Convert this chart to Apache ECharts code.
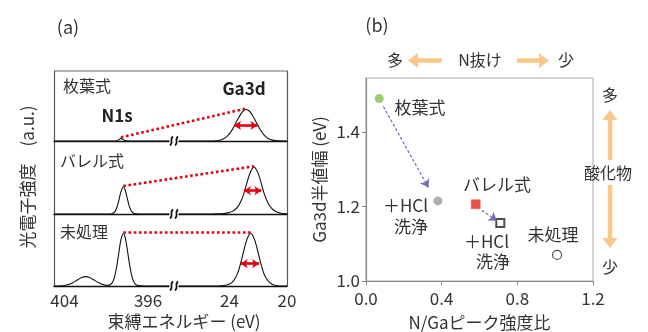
<!DOCTYPE html>
<html><head><meta charset="utf-8">
<script src="https://cdn.jsdelivr.net/npm/echarts@6/dist/echarts.min.js"></script>
<style>html,body{margin:0;padding:0;background:#fff}#c{width:648px;height:332px}</style>
</head><body><div id="c"></div>
<script>
// ---------- DATA: panel (a) XPS spectra (binding energy eV, intensity a.u. 0-100 per row) ----------
const rowNames = ['枚葉式', 'バレル式', '未処理'];
const n1sMaiyou = [[405,0],[399.4,0],[399.0,0.4],[398.8,1.8],[398.6,3.8],[398.4,2.2],[398.2,0.6],[397.9,0],[394,0]];
const ga3dMaiyou = [[27.5,0],[26,0],[25.2,0.1],[24.6,1.5],[24.4,3.1],[24.2,5.9],[24.0,10.2],[23.8,16.3],[23.6,23.7],[23.4,31.7],[23.2,38.8],[23.0,43.6],[22.83,45],[22.6,42.5],[22.4,36.8],[22.2,29.3],[22.0,21.4],[21.8,14.3],[21.6,8.8],[21.4,4.9],[21.2,2.5],[21.0,1.2],[20.6,0.2],[20,0]];
const n1sBarrel = [[405,0],[400,0],[399.6,0.1],[399.4,0.7],[399.2,2.8],[399.0,8.3],[398.8,18.5],[398.6,30.3],[398.37,37],[398.2,33.2],[398.0,22.1],[397.8,10.9],[397.6,4.0],[397.4,1.1],[397.2,0.2],[396.8,0],[394,0]];
const ga3dBarrel = [[27.5,0],[25.2,0],[24.8,0.2],[24.6,0.3],[24.4,0.6],[24.2,1.2],[24.0,2.2],[23.8,3.6],[23.6,6.2],[23.4,10.5],[23.2,17.5],[23.0,27.6],[22.8,41.5],[22.6,54.5],[22.4,62.7],[22.29,64],[22.2,63.1],[22.0,55.6],[21.8,42.9],[21.6,28.9],[21.4,18.5],[21.2,11],[21.0,6.5],[20.8,3.8],[20.6,2.0],[20.4,1.0],[20.2,0.5],[20.0,0.3]];
const n1sUntreated = [[405,0],[404.6,0],[404.4,0.2],[404.0,0.8],[403.6,2.1],[403.2,4.6],[402.8,8.1],[402.4,11.4],[401.97,13],[401.6,11.8],[401.2,8.6],[400.8,5.1],[400.4,2.4],[400.0,1.0],[399.8,0.9],[399.6,2],[399.4,5.2],[399.2,13.1],[399.0,27.1],[398.8,46],[398.6,64],[398.37,73],[398.2,67.9],[398.0,51.8],[397.8,32.4],[397.6,16.6],[397.4,6.9],[397.2,2.4],[397.0,0.9],[396.6,0.3],[396,0],[394,0]];
const ga3dUntreated = [[27.5,0],[25.2,0],[24.8,0.1],[24.6,0.4],[24.4,0.8],[24.2,1.5],[24.0,2.8],[23.8,5.5],[23.6,10.8],[23.4,19.2],[23.2,32.9],[23.0,49.1],[22.8,63.8],[22.6,72.2],[22.52,73],[22.4,71.2],[22.2,61.2],[22.0,45.8],[21.8,29.9],[21.6,17],[21.4,9.3],[21.2,4.6],[21.0,2.2],[20.8,1.0],[20.6,0.4],[20.4,0.1],[20,0]];
const n1sRows = [n1sMaiyou, n1sBarrel, n1sUntreated];
const ga3dRows = [ga3dMaiyou, ga3dBarrel, ga3dUntreated];
const n1sTops = [[398.6,3.8],[398.37,37],[398.37,73]];
const ga3dTops = [[22.83,45],[22.29,64],[22.52,73]];
const fwhmArrows = [[23.68,22.06,22.3],[22.99,21.78,32],[23.22,21.94,31]]; // [from eV, to eV, height]
const leftTickLabels = [404, 396];
const rightTickLabels = [24, 20];

// ---------- DATA: panel (b) ----------
const bNames = ['枚葉式', '枚葉式＋HCl洗浄', 'バレル式', 'バレル式＋HCl洗浄', '未処理'];
const bRatio = [0.07, 0.38, 0.58, 0.71, 1.01];
const bFwhm = [1.49, 1.215, 1.206, 1.156, 1.07];
const bArrowFrom = [[0.092, 1.4685], [0.612, 1.19]];
const bArrowTo = [[0.33, 1.2507], [0.692, 1.162]];
const bXTicks = [0, 0.4, 0.8, 1.2];

// ---------- BUILD ----------
const FONT = '"Noto Sans CJK JP", "Noto Sans", sans-serif';
const chart = echarts.init(document.getElementById('c'), null, {renderer: 'canvas', width: 648, height: 332});
const rowTops = [71, 141, 214], rowHeights = [70, 73, 72];
const grids = [], xAxes = [], yAxes = [], series = [];
const hidden = {show: false};
for (let r = 0; r < 3; r++) {
  grids.push({left: 54, top: rowTops[r], width: 115, height: rowHeights[r], outerBoundsMode: 'none'});
  grids.push({left: 179, top: rowTops[r], width: 108, height: rowHeights[r], outerBoundsMode: 'none'});
  const lab = (list) => ({
    show: r === 2, fontSize: 17, color: '#333', fontFamily: FONT, margin: 6,
    formatter: v => list.indexOf(Math.round(v * 10) / 10) >= 0 ? String(Math.round(v)) : ''
  });
  xAxes.push({type: 'value', gridIndex: 2*r, min: 394, max: 405, interval: 1, inverse: true,
    axisLine: {show: true, onZero: false, lineStyle: {color: '#111', width: 1.3}},
    axisTick: hidden, splitLine: hidden, axisLabel: lab(leftTickLabels)});
  xAxes.push({type: 'value', gridIndex: 2*r+1, min: 20, max: 27.5, interval: 1, inverse: true,
    axisLine: {show: true, onZero: false, lineStyle: {color: '#111', width: 1.3}},
    axisTick: hidden, splitLine: hidden, axisLabel: lab(rightTickLabels)});
  yAxes.push({type: 'value', gridIndex: 2*r, min: 0, max: 100, position: 'left',
    axisLine: {show: true, onZero: false, lineStyle: {color: '#555', width: 1.2}},
    axisTick: hidden, axisLabel: hidden, splitLine: hidden});
  yAxes.push({type: 'value', gridIndex: 2*r+1, min: 0, max: 100, position: 'right',
    axisLine: {show: true, onZero: false, lineStyle: {color: '#555', width: 1.2}},
    axisTick: hidden, axisLabel: hidden, splitLine: hidden});
  series.push({type: 'line', name: rowNames[r] + ' N1s', xAxisIndex: 2*r, yAxisIndex: 2*r, data: n1sRows[r],
    showSymbol: false, smooth: 0.3, silent: true, z: 3, lineStyle: {color: '#111', width: 1.1}});
  const fa = fwhmArrows[r];
  series.push({type: 'line', name: rowNames[r] + ' Ga3d', xAxisIndex: 2*r+1, yAxisIndex: 2*r+1, data: ga3dRows[r],
    showSymbol: false, smooth: 0.3, silent: true, z: 3, lineStyle: {color: '#111', width: 1.1},
    markLine: {silent: true, symbol: ['arrow', 'arrow'], symbolSize: [7, 7], animation: false,
      label: {show: false}, lineStyle: {color: '#e60012', width: 2.6, type: 'solid'},
      data: [[{coord: [fa[0], fa[2]]}, {coord: [fa[1], fa[2]]}]]}});
}
// panel (b)
grids.push({left: 366, top: 78, width: 227, height: 203, show: true, borderColor: '#aaa', borderWidth: 1, outerBoundsMode: 'none'});
xAxes.push({type: 'value', gridIndex: 6, min: 0, max: 1.2, interval: 0.4,
  name: 'N/Gaピーク強度比', nameLocation: 'middle', nameGap: 33,
  nameTextStyle: {fontSize: 17, color: '#333', fontFamily: FONT},
  axisLine: {show: true, onZero: false, lineStyle: {color: '#888', width: 1.2}},
  axisTick: {show: true, length: 4, lineStyle: {color: '#888'}},
  axisLabel: {fontSize: 17, color: '#333', fontFamily: FONT, margin: 9, formatter: v => v.toFixed(1)},
  splitLine: hidden});
yAxes.push({type: 'value', gridIndex: 6, min: 1.0, max: 1.545, interval: 0.2,
  name: 'Ga3d半値幅 (eV)', nameLocation: 'middle', nameGap: 38,
  nameTextStyle: {fontSize: 17, color: '#333', fontFamily: FONT},
  axisLine: {show: true, onZero: false, lineStyle: {color: '#888', width: 1.2}},
  axisTick: {show: true, length: 4, lineStyle: {color: '#888'}},
  axisLabel: {fontSize: 17, color: '#333', fontFamily: FONT, margin: 6, showMaxLabel: false, formatter: v => v.toFixed(1)},
  splitLine: hidden});
const bStyles = [
  {symbol: 'circle', size: 9, item: {color: '#86c149'}},
  {symbol: 'circle', size: 9, item: {color: '#9a9a9a'}},
  {symbol: 'rect', size: 9, item: {color: '#e5231b', borderColor: '#ee6a3c', borderWidth: 0.8}},
  {symbol: 'rect', size: 8, item: {color: '#fff', borderColor: '#222', borderWidth: 2}},
  {symbol: 'circle', size: 9, item: {color: '#fff', borderColor: '#222', borderWidth: 1.2}}
];
bNames.forEach((n, i) => {
  const s = {type: 'scatter', name: n, xAxisIndex: 6, yAxisIndex: 6, data: [[bRatio[i], bFwhm[i]]],
    symbol: bStyles[i].symbol, symbolSize: bStyles[i].size, itemStyle: bStyles[i].item, silent: true, z: 4};
  if (i === 0) {
    s.markLine = {silent: true, symbol: ['none', 'arrow'], symbolSize: 8, animation: false, label: {show: false},
      lineStyle: {color: '#7b68b4', width: 1.2, type: [3, 2]},
      data: bArrowFrom.map((f, k) => [{coord: f}, {coord: bArrowTo[k]}])};
  }
  series.push(s);
});

chart.setOption({animation: false, grid: grids, xAxis: xAxes, yAxis: yAxes, series: series});

// ---------- annotations ----------
const txt = (t, x, y, size, opts = {}) => ({type: 'text', x, y, rotation: opts.rot || 0, silent: true, z: 10,
  style: {text: t, fontSize: size, fontFamily: FONT, fontWeight: opts.bold ? 'bold' : 'normal',
    fill: opts.color || '#333', align: opts.align || 'center', verticalAlign: 'middle'}});
function arrowPts(x1, y1, x2, y2, sw, hw, hl) {
  const dx = x2 - x1, dy = y2 - y1, L = Math.hypot(dx, dy), ux = dx / L, uy = dy / L, nx = -uy, ny = ux;
  const bx = x2 - ux * hl, by = y2 - uy * hl;
  return [[x1 + nx*sw/2, y1 + ny*sw/2], [bx + nx*sw/2, by + ny*sw/2], [bx + nx*hw/2, by + ny*hw/2], [x2, y2],
          [bx - nx*hw/2, by - ny*hw/2], [bx - nx*sw/2, by - ny*sw/2], [x1 - nx*sw/2, y1 - ny*sw/2]];
}
const orange = '#fbc88a';
const arrow = (a) => ({type: 'polygon', silent: true, z: 10, shape: {points: arrowPts(a[0], a[1], a[2], a[3], 4.5, 15, 10)}, style: {fill: orange}});
const g = [];
// frame top of (a)
g.push({type: 'line', silent: true, z: 5, shape: {x1: 54, y1: 71, x2: 287, y2: 71}, style: {stroke: '#666', lineWidth: 1.2}});
// axis breaks
rowTops.forEach((t, r) => {
  const y = t + rowHeights[r];
  [171.5, 176.5].forEach(x => g.push({type: 'bezierCurve', silent: true, z: 6,
    shape: {x1: x - 1.5, y1: y + 4.5, cpx1: x + 2.5, cpy1: y + 1.5, cpx2: x - 2.5, cpy2: y - 1.5, x2: x + 1.5, y2: y - 4.5},
    style: {stroke: '#111', lineWidth: 1.7, fill: null}}));
});
// dotted connectors N1s top -> Ga3d top
for (let r = 0; r < 3; r++) {
  const p1 = chart.convertToPixel({xAxisIndex: 2*r, yAxisIndex: 2*r}, n1sTops[r]);
  const p2 = chart.convertToPixel({xAxisIndex: 2*r+1, yAxisIndex: 2*r+1}, ga3dTops[r]);
  g.push({type: 'line', silent: true, z: 7, shape: {x1: p1[0], y1: p1[1] - 1, x2: p2[0], y2: p2[1] - 1},
    style: {stroke: '#e60012', lineWidth: 2.6, lineDash: [2.6, 2.6]}});
}
// texts panel (a)
g.push(txt('(a)', 68, 27, 18));
g.push(txt(rowNames[0], 63, 86, 16, {align: 'left'}));
g.push(txt(rowNames[1], 60, 161, 16, {align: 'left'}));
g.push(txt(rowNames[2], 60, 232, 16, {align: 'left'}));
g.push(txt('Ga3d', 244, 89, 17, {bold: true, color: '#222'}));
g.push(txt('N1s', 117, 116, 17, {bold: true, color: '#222'}));
g.push(txt('束縛エネルギー (eV)', 184, 322, 17));
g.push(txt('光電子強度　(a.u.)', 28, 177, 17, {rot: Math.PI / 2}));
// texts panel (b)
g.push(txt('(b)', 377, 25, 18));
g.push(txt('多', 395, 60, 16));
g.push(txt('N抜け', 480, 60, 16));
g.push(txt('少', 566, 60, 16));
g.push(txt('多', 610, 95, 16));
g.push(txt('酸化物', 608, 173, 16));
g.push(txt('少', 610, 267, 16));
g.push(arrow([442, 60.5, 408, 60.5]));
g.push(arrow([517, 60.5, 549, 60.5]));
g.push(arrow([610, 160, 610, 110]));
g.push(arrow([610, 185, 610, 248]));
g.push(txt('枚葉式', 420, 108, 17));
g.push(txt('バレル式', 497, 185, 17));
g.push(txt('＋HCl', 428, 206, 17, {align: 'right'}));
g.push(txt('洗浄', 428, 227, 17, {align: 'right'}));
g.push(txt('＋HCl', 509, 242, 17, {align: 'right'}));
g.push(txt('洗浄', 510, 262, 17, {align: 'right'}));
g.push(txt('未処理', 553, 235, 17));
chart.setOption({graphic: g});
</script></body></html>
